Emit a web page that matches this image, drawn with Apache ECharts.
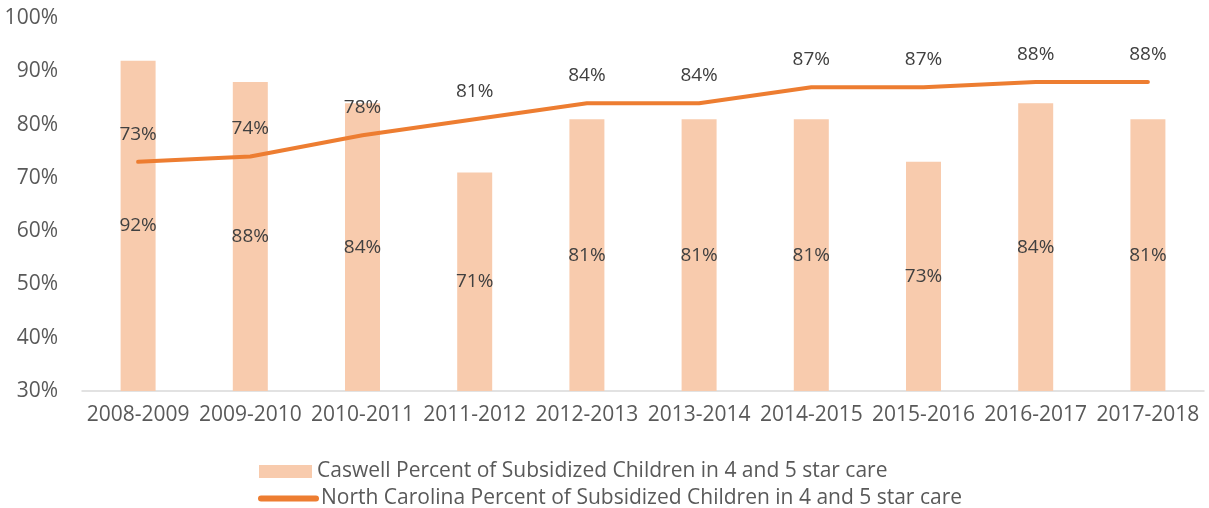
<!DOCTYPE html>
<html>
<head>
<meta charset="utf-8">
<script src="https://cdn.jsdelivr.net/npm/echarts@6/dist/echarts.min.js"></script>
<style>
  html, body { margin: 0; padding: 0; background: #fff; }
  #main { width: 1209px; height: 508px; }
</style>
</head>
<body>
<div id="main"></div>
<script>
const years = ["2008-2009", "2009-2010", "2010-2011", "2011-2012", "2012-2013",
  "2013-2014", "2014-2015", "2015-2016", "2016-2017", "2017-2018"];
const caswell = [92, 88, 84, 71, 81, 81, 81, 73, 84, 81];
const northCarolina = [73, 74, 78, 81, 84, 84, 87, 87, 88, 88];
const caswellName = "Caswell Percent of Subsidized Children in 4 and 5 star care";
const ncName = "North Carolina Percent of Subsidized Children in 4 and 5 star care";

const font = "Open Sans";
const legendText = { fontFamily: font, fontSize: 21, color: "#595959" };
let chart = echarts.init(document.getElementById("main"));

chart.setOption({
  animation: false,
  textStyle: { fontFamily: font },
  grid: { left: 82, right: 5, top: 18, bottom: 117 },
  legend: [
    {
      left: 254,
      top: 456,
      itemWidth: 53,
      itemHeight: 13,
      textStyle: legendText,
      data: [{ name: caswellName, icon: "rect" }]
    },
    {
      left: 253,
      top: 483,
      itemWidth: 55,
      itemHeight: 13,
      textStyle: legendText,
      data: [{
        name: ncName,
        itemStyle: { opacity: 0 },
        lineStyle: { width: 6, cap: "round" }
      }]
    }
  ],
  xAxis: {
    type: "category",
    data: years,
    axisLine: { lineStyle: { color: "#D9D9D9", width: 1.5 } },
    axisTick: { show: false },
    axisLabel: { color: "#595959", fontSize: 21, margin: 14, interval: 0 }
  },
  yAxis: {
    type: "value",
    min: 30,
    max: 100,
    interval: 10,
    axisLine: { show: false },
    axisTick: { show: false },
    splitLine: { show: false },
    axisLabel: { color: "#595959", fontSize: 21, margin: 24, formatter: "{value}%" }
  },
  series: [
    {
      name: caswellName,
      type: "bar",
      data: caswell,
      barWidth: 35,
      itemStyle: { color: "#F8CBAD" },
      label: {
        show: true,
        position: "inside",
        color: "#404040",
        fontSize: 19,
        formatter: "{c}%"
      }
    },
    {
      name: ncName,
      type: "line",
      data: northCarolina,
      symbol: "circle",
      symbolSize: 2,
      itemStyle: { color: "#ED7D31" },
      lineStyle: { color: "#ED7D31", width: 4, cap: "round", join: "round" },
      label: {
        show: true,
        position: "top",
        distance: 17,
        color: "#404040",
        fontSize: 19,
        formatter: "{c}%"
      }
    }
  ]
});
</script>
</body>
</html>
